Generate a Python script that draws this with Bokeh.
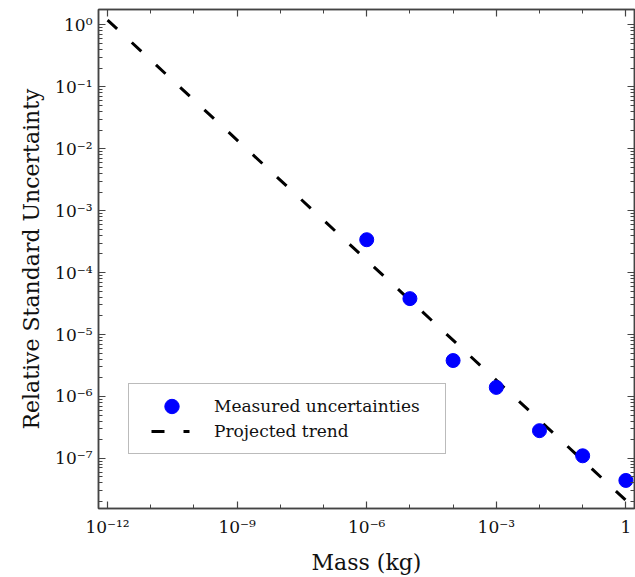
from bokeh.plotting import figure
from bokeh.models import (FixedTicker, LogAxis, CustomJSTickFormatter, Legend,
                          LegendItem, Range1d, CustomLabelingPolicy)
from bokeh.embed import file_html
from bokeh.resources import INLINE

# ---- data ----
mass_kg = [1e-6, 1e-5, 1e-4, 1e-3, 1e-2, 1e-1, 1.0]
uncertainty = [3.4e-4, 3.8e-5, 3.8e-6, 1.4e-6, 2.8e-7, 1.1e-7, 4.4e-8]
trend_mass = [1e-12, 1.0]
trend_unc = [1.2, 2.1e-8]

x_major_ticks = [1e-12, 1e-9, 1e-6, 1e-3, 1.0]
x_minor_ticks = [1e-11, 1e-10, 1e-8, 1e-7, 1e-5, 1e-4, 1e-2, 1e-1]
x_tick_labels = ["10\u207b\u00b9\u00b2", "10\u207b\u2079", "10\u207b\u2076", "10\u207b\u00b3", "1"]
y_major_ticks = [1e0, 1e-1, 1e-2, 1e-3, 1e-4, 1e-5, 1e-6, 1e-7]
y_tick_labels = ["10\u2070", "10\u207b\u00b9", "10\u207b\u00b2", "10\u207b\u00b3",
                 "10\u207b\u2074", "10\u207b\u2075", "10\u207b\u2076", "10\u207b\u2077"]
y_minor_ticks = [k * 10.0 ** e for e in range(-8, 1) for k in range(2, 10)]

FONT = "DejaVu Serif"
NAN = float("nan")

p = figure(width=635, height=577, x_axis_type="log", y_axis_type="log",
           x_range=Range1d(10 ** -12.21, 10 ** 0.2),
           y_range=Range1d(10 ** -7.81, 10 ** 0.25),
           output_backend="svg", toolbar_location=None,
           min_border_left=98, min_border_right=1, min_border_top=9,
           min_border_bottom=69, background_fill_color="white",
           border_fill_color="white")
p.grid.visible = False
p.outline_line_color = "#444444"
p.outline_line_width = 1.5

fmt_code = """
const i = ticks_list.findIndex(t => Math.abs(Math.log10(t) - Math.log10(tick)) < 1e-6);
return i >= 0 ? labels[i] : "";
"""
xfmt = CustomJSTickFormatter(args=dict(ticks_list=x_major_ticks, labels=x_tick_labels), code=fmt_code)
yfmt = CustomJSTickFormatter(args=dict(ticks_list=y_major_ticks, labels=y_tick_labels), code=fmt_code)

xticker = FixedTicker(ticks=x_major_ticks, minor_ticks=x_minor_ticks)
yticker = FixedTicker(ticks=y_major_ticks, minor_ticks=y_minor_ticks)

no_labels = CustomLabelingPolicy(code="""
for (const i of indices)
    if (i < 0)
        yield i
""")


def style(ax, labels=True):
    ax.axis_line_color = "#444444"
    ax.axis_line_width = 1.5
    ax.major_tick_in = 7
    ax.major_tick_out = 0
    ax.minor_tick_in = 4
    ax.minor_tick_out = 0
    ax.major_tick_line_color = "#444444"
    ax.minor_tick_line_color = "#444444"
    ax.major_tick_line_width = 1.2
    ax.minor_tick_line_width = 1
    if labels:
        ax.major_label_text_font = FONT
        ax.major_label_text_font_size = "17px"
        ax.major_label_text_color = "#111111"
        ax.axis_label_text_font = FONT
        ax.axis_label_text_font_size = "22px"
        ax.axis_label_text_font_style = "normal"
        ax.axis_label_text_color = "#111111"
    else:
        ax.major_label_policy = no_labels
        ax.major_label_text_font_size = "0px"
        ax.major_label_standoff = 0
        ax.axis_label = None


xa = p.xaxis[0]
xa.ticker = xticker
xa.formatter = xfmt
xa.axis_label = "Mass (kg)"
xa.major_label_standoff = 8
xa.axis_label_standoff = 10
style(xa)

ya = p.yaxis[0]
ya.ticker = yticker
ya.formatter = yfmt
ya.axis_label = "Relative Standard Uncertainty"
ya.major_label_standoff = 6
ya.axis_label_standoff = 8
style(ya)

top = LogAxis(ticker=FixedTicker(ticks=x_major_ticks, minor_ticks=x_minor_ticks), formatter=xfmt)
style(top, labels=False)
p.add_layout(top, "above")
right = LogAxis(ticker=FixedTicker(ticks=y_major_ticks, minor_ticks=y_minor_ticks), formatter=yfmt)
style(right, labels=False)
p.add_layout(right, "right")

trend = p.line(trend_mass, trend_unc, line_color="black", line_width=3, line_dash="13 20")
pts = p.scatter(mass_kg, uncertainty, size=14, fill_color="#0000ff", line_color="#0000ff")

# legend-only swatches (hold no drawable point): a full-size dot and the key's dash phase
dot_key = p.ellipse(x=[NAN], y=[NAN], width=14, height=14, width_units="screen",
                    height_units="screen", fill_color="#0000ff", line_color="#0000ff")
trend_key = p.line([NAN], [NAN], line_color="black", line_width=3,
                   line_dash="13 19 6 117", line_dash_offset=145)

legend = Legend(items=[LegendItem(label="Measured uncertainties", renderers=[dot_key]),
                       LegendItem(label="Projected trend", renderers=[trend_key])],
                location=(30, 54), margin=0, padding=12, spacing=5,
                glyph_width=61, glyph_height=18, label_height=18, label_standoff=12,
                label_width=219,
                label_text_font=FONT, label_text_font_size="17px",
                label_text_color="#111111",
                border_line_color="#777777", border_line_width=1,
                background_fill_color="white", background_fill_alpha=1)
p.add_layout(legend, "center")

open("out.html", "w").write(file_html(p, INLINE))
